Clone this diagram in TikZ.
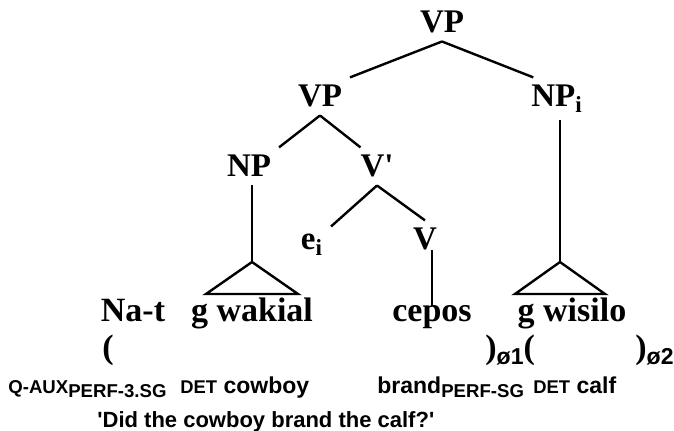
\documentclass[tikz,border=0pt]{standalone}
\usepackage{fontspec}
\setmainfont{Liberation Serif}
\newfontfamily\glossfont{Liberation Sans}
\usetikzlibrary{calc}

\begin{document}
\begin{tikzpicture}[
  x=0.5pt, y=-0.5pt,
  cat/.style={font=\bfseries\fontsize{16.5}{18}\selectfont, inner sep=0pt, outer sep=4pt, anchor=base},
  word/.style={font=\bfseries\fontsize{17}{20}\selectfont, inner sep=0pt, anchor=base},
  gls/.style={font=\glossfont\bfseries\fontsize{11.5}{14}\selectfont, inner sep=0pt, anchor=base west},
  br/.style={line width=1.2pt},
  roof/.style={line width=1.2pt, line join=miter}
]
\useasboundingbox (0,0) rectangle (674,431);

\node[cat] (vptop) at (442,33)  {VP};
\node[cat] (vp2)   at (320,107) {VP};
\node[cat] (npi)   at (557,107) {NP\textsubscript{i}};
\node[cat] (np)    at (249,177) {NP};
\node[cat] (vbar)  at (377,177) {V\textquotesingle};
\node[cat] (ei)    at (312,250) {e\textsubscript{i}};
\node[cat] (v)     at (425,250) {V};

\node[word] (nat)    at (133,322) {Na-t};
\node[word] (wakial) at (252,322) {g wakial};
\node[word] (cepos)  at (432,322) {cepos};
\node[word] (wisilo) at (572,322) {g wisilo};

\node[word, anchor=base west] (pa) at (102,359) {(};
\node[word, anchor=base west] (pb) at (485,359) {)\raisebox{-3pt}{\glossfont\fontsize{11.5}{14}\selectfont ø1}(};
\node[word, anchor=base west] (pc) at (635,359) {)\raisebox{-3pt}{\glossfont\fontsize{11.5}{14}\selectfont ø2}};

\node[gls] (gaux)    at (8,394)   {{\fontsize{9.3}{11}\selectfont Q-AUX}\raisebox{-2pt}{\fontsize{9.3}{11}\selectfont PERF-3.SG}};
\node[gls] (gcowboy) at (180,394) {{\fontsize{9.2}{11}\selectfont DET} cowboy};
\node[gls] (gbrand)  at (377,394) {brand\raisebox{-2pt}{\fontsize{9.3}{11}\selectfont PERF-SG}};
\node[gls] (gcalf)   at (533,394) {{\fontsize{9.2}{11}\selectfont DET} calf};
\node[gls, font=\glossfont\bfseries\fontsize{11}{14}\selectfont] (trans) at (97,428) {\textquotesingle Did the cowboy brand the calf?\textquotesingle};

\draw[br] (vptop.south) -- (vp2.north east);
\draw[br] (vptop.south) -- ([xshift=5pt]npi.north west);
\draw[br] (vp2.south) -- (np.north east);
\draw[br] (vp2.south) -- ([xshift=4pt]vbar.north west);
\draw[br] (vbar.south) -- (ei.north east);
\draw[br] (vbar.south) -- (v.north);
\draw[br] (cepos.north |- v.base) -- (cepos.north);

\coordinate (apexa) at ($(wakial.north)+(0,-36)$);
\draw[roof] (apexa) -- ++(-46,32) -- ++(92,0) -- cycle;
\draw[br] (apexa |- np.south) -- (apexa);

\coordinate (apexb) at ($(wisilo.north)+(-12,-36)$);
\draw[roof] (apexb) -- ++(-45,32) -- ++(90,0) -- cycle;
\draw[br] (apexb |- npi.south) -- (apexb);
\end{tikzpicture}
\end{document}
